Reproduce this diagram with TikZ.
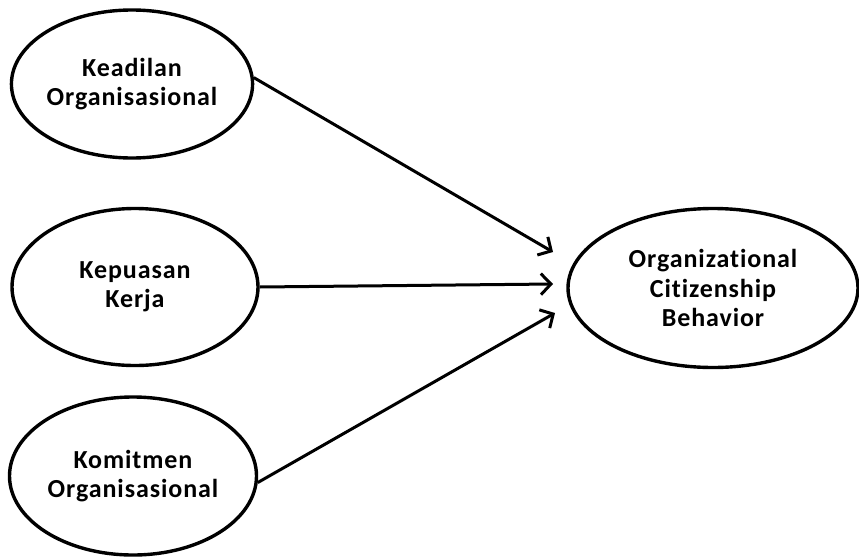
\documentclass[tikz,border=0pt]{standalone}
\usepackage{fontspec}
\setmainfont[Ligatures=NoCommon,LetterSpace=3.5]{Carlito}
\usetikzlibrary{shapes.geometric,arrows.meta}
\begin{document}
\begin{tikzpicture}[x=1pt,y=-1pt,
  latent/.style={ellipse,draw,line width=3.4pt,inner sep=0pt,align=center,
    font=\fontsize{26}{29.5}\selectfont\bfseries},
  path/.style={line width=3pt,-{Straight Barb[length=10pt,width=21pt,line width=3pt]}}]
\useasboundingbox[fill=white] (0,0) rectangle (859,557);
\node[latent,minimum width=240pt,minimum height=148pt] (k1) at (132,84) {Keadilan\\Organisasional};
\node[latent,minimum width=246pt,minimum height=157pt] (k2) at (135,287) {Kepuasan\\Kerja};
\node[latent,minimum width=247pt,minimum height=158pt] (k3) at (133,476) {Komitmen\\Organisasional};
\node[latent,minimum width=290pt,minimum height=159pt] (ocb) at (713,288) {Organizational\\Citizenship\\Behavior};
\coordinate (t1) at (553,252);
\coordinate (t2) at (553,284);
\coordinate (t3) at (555,313);
\draw[path] (k1.3) -- (t1);
\draw[path] (k2.east) -- (t2);
\draw[path] (k3.-3) -- (t3);
\end{tikzpicture}
\end{document}
